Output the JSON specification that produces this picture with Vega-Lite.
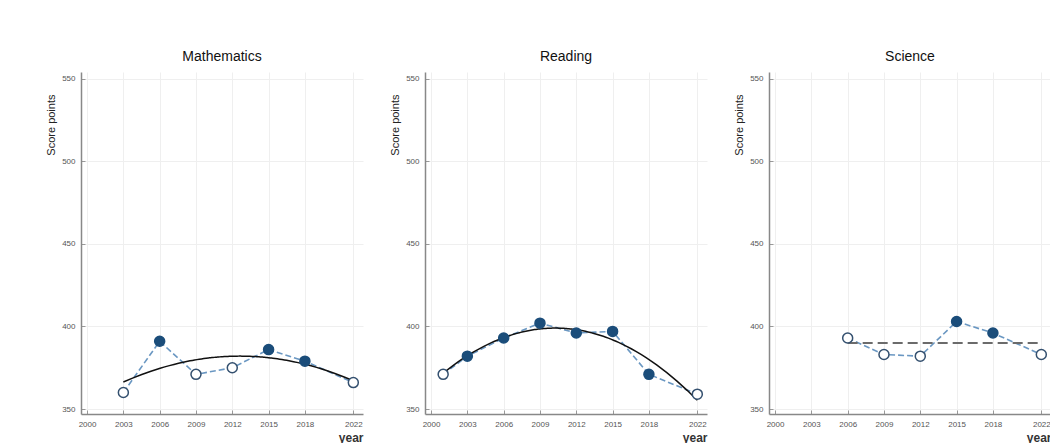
{
  "$schema": "https://vega.github.io/schema/vega-lite/v6.json",
  "background": "white",
  "padding": {"left": 45, "top": 50, "right": 0, "bottom": 0},
  "spacing": 26,
  "datasets": {
    "pisa": [
      {"subject": "Mathematics", "year": 2003, "score": 360, "sig": "no"},
      {"subject": "Mathematics", "year": 2006, "score": 391, "sig": "yes"},
      {"subject": "Mathematics", "year": 2009, "score": 371, "sig": "no"},
      {"subject": "Mathematics", "year": 2012, "score": 375, "sig": "no"},
      {"subject": "Mathematics", "year": 2015, "score": 386, "sig": "yes"},
      {"subject": "Mathematics", "year": 2018, "score": 379, "sig": "yes"},
      {"subject": "Mathematics", "year": 2022, "score": 366, "sig": "no"},
      {"subject": "Reading", "year": 2001, "score": 371, "sig": "no"},
      {"subject": "Reading", "year": 2003, "score": 382, "sig": "yes"},
      {"subject": "Reading", "year": 2006, "score": 393, "sig": "yes"},
      {"subject": "Reading", "year": 2009, "score": 402, "sig": "yes"},
      {"subject": "Reading", "year": 2012, "score": 396, "sig": "yes"},
      {"subject": "Reading", "year": 2015, "score": 397, "sig": "yes"},
      {"subject": "Reading", "year": 2018, "score": 371, "sig": "yes"},
      {"subject": "Reading", "year": 2022, "score": 359, "sig": "no"},
      {"subject": "Science", "year": 2006, "score": 393, "sig": "no"},
      {"subject": "Science", "year": 2009, "score": 383, "sig": "no"},
      {"subject": "Science", "year": 2012, "score": 382, "sig": "no"},
      {"subject": "Science", "year": 2015, "score": 403, "sig": "yes"},
      {"subject": "Science", "year": 2018, "score": 396, "sig": "yes"},
      {"subject": "Science", "year": 2022, "score": 383, "sig": "no"}
    ]
  },
  "data": {"name": "pisa"},
  "hconcat": [
    {
      "width": 282, "height": 342,
      "title": "Mathematics",
      "transform": [{"filter": "datum.subject === 'Mathematics'"}],
      "encoding": {
        "x": {"field": "year", "type": "quantitative", "scale": {"domain": [1999.5, 2022.8], "nice": false, "zero": false}, "axis": {"values": [2000, 2003, 2006, 2009, 2012, 2015, 2018, 2022], "format": "d", "title": "year"}},
        "y": {"field": "score", "type": "quantitative", "scale": {"domain": [347, 554], "nice": false, "zero": false}, "axis": {"values": [350, 400, 450, 500, 550], "title": "Score points"}}
      },
      "layer": [
        {"mark": {"type": "line", "color": "#6a97c2", "strokeWidth": 1.6, "strokeDash": [6, 3]}},
        {"transform": [{"regression": "score", "on": "year", "method": "poly", "order": 2}], "mark": {"type": "line", "color": "#111111", "strokeWidth": 1.5}},
        {"mark": {"type": "point", "shape": "circle", "size": 100, "filled": true, "strokeWidth": 1.5, "opacity": 1},
         "encoding": {
           "fill": {"field": "sig", "type": "nominal", "scale": {"domain": ["yes", "no"], "range": ["#1b4d7a", "#ffffff"]}, "legend": null},
           "stroke": {"field": "sig", "type": "nominal", "scale": {"domain": ["yes", "no"], "range": ["#1b4d7a", "#34506f"]}, "legend": null}
         }}
      ]
    },
    {
      "width": 282, "height": 342,
      "title": "Reading",
      "transform": [{"filter": "datum.subject === 'Reading'"}],
      "encoding": {
        "x": {"field": "year", "type": "quantitative", "scale": {"domain": [1999.5, 2022.8], "nice": false, "zero": false}, "axis": {"values": [2000, 2003, 2006, 2009, 2012, 2015, 2018, 2022], "format": "d", "title": "year"}},
        "y": {"field": "score", "type": "quantitative", "scale": {"domain": [347, 554], "nice": false, "zero": false}, "axis": {"values": [350, 400, 450, 500, 550], "title": "Score points"}}
      },
      "layer": [
        {"mark": {"type": "line", "color": "#6a97c2", "strokeWidth": 1.6, "strokeDash": [6, 3]}},
        {"transform": [{"regression": "score", "on": "year", "method": "poly", "order": 2}], "mark": {"type": "line", "color": "#111111", "strokeWidth": 1.5}},
        {"mark": {"type": "point", "shape": "circle", "size": 100, "filled": true, "strokeWidth": 1.5, "opacity": 1},
         "encoding": {
           "fill": {"field": "sig", "type": "nominal", "scale": {"domain": ["yes", "no"], "range": ["#1b4d7a", "#ffffff"]}, "legend": null},
           "stroke": {"field": "sig", "type": "nominal", "scale": {"domain": ["yes", "no"], "range": ["#1b4d7a", "#34506f"]}, "legend": null}
         }}
      ]
    },
    {
      "width": 282, "height": 342,
      "title": "Science",
      "transform": [{"filter": "datum.subject === 'Science'"}],
      "encoding": {
        "x": {"field": "year", "type": "quantitative", "scale": {"domain": [1999.5, 2022.8], "nice": false, "zero": false}, "axis": {"values": [2000, 2003, 2006, 2009, 2012, 2015, 2018, 2022], "format": "d", "title": "year"}},
        "y": {"field": "score", "type": "quantitative", "scale": {"domain": [347, 554], "nice": false, "zero": false}, "axis": {"values": [350, 400, 450, 500, 550], "title": "Score points"}}
      },
      "layer": [
        {"mark": {"type": "line", "color": "#6a97c2", "strokeWidth": 1.6, "strokeDash": [6, 3]}},
        {"transform": [{"joinaggregate": [{"op": "mean", "field": "score", "as": "mean_score"}]}], "mark": {"type": "line", "color": "#6b6b6b", "strokeWidth": 2, "strokeDash": [10, 5]},
         "encoding": {"y": {"field": "mean_score", "type": "quantitative"}}},
        {"mark": {"type": "point", "shape": "circle", "size": 100, "filled": true, "strokeWidth": 1.5, "opacity": 1},
         "encoding": {
           "fill": {"field": "sig", "type": "nominal", "scale": {"domain": ["yes", "no"], "range": ["#1b4d7a", "#ffffff"]}, "legend": null},
           "stroke": {"field": "sig", "type": "nominal", "scale": {"domain": ["yes", "no"], "range": ["#1b4d7a", "#34506f"]}, "legend": null}
         }}
      ]
    }
  ],
  "config": {
    "font": "Liberation Sans",
    "view": {"stroke": null},
    "title": {"fontSize": 14, "fontWeight": "normal", "color": "#111111", "offset": 8, "anchor": "middle"},
    "axis": {
      "labelFontSize": 8, "labelColor": "#555555",
      "gridColor": "#efefef", "gridWidth": 1,
      "domainColor": "#888888", "domainWidth": 1.5,
      "tickColor": "#999999", "tickSize": -4, "labelPadding": 10,
      "titleFontWeight": "normal", "titleColor": "#222222"
    },
    "axisX": {"titleFontSize": 12, "titleFontWeight": "bold", "titleColor": "#333333", "titleAnchor": "end", "titlePadding": 4, "labelFlush": false},
    "axisY": {"titleFontSize": 11, "titlePadding": 5, "titleAnchor": "end", "titleY": 22}
  }
}
